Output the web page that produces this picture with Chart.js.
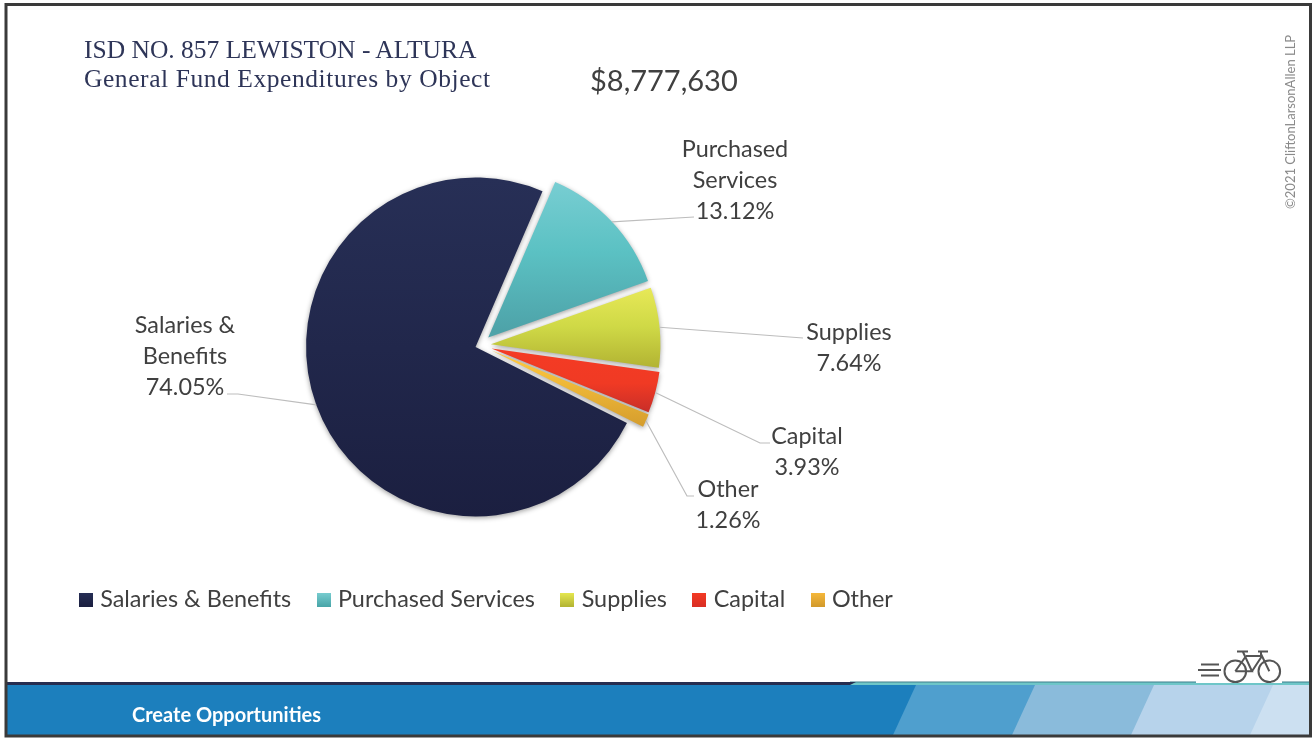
<!DOCTYPE html>
<html><head><meta charset="utf-8">
<style>
html,body{margin:0;padding:0;background:#fff;width:1312px;height:738px;overflow:hidden}
#wrap{position:relative;width:1312px;height:738px}
#c{position:absolute;left:0;top:0}
.t{position:absolute;white-space:nowrap}
svg{position:absolute;left:0;top:0}
</style></head><body>
<div id="wrap">
<svg width="1312" height="738">
<rect x="850" y="682" width="459" height="3" fill="#6EC6C8"/>
<rect x="850" y="681.5" width="459" height="1" fill="#3F7F8C"/>
<polygon points="6,682 856,682 850,685 6,685" fill="#262D50"/>
<rect x="6" y="685" width="1304" height="50" fill="#1C7FBD"/>
<polygon points="916,685 1310,685 1310,735 893,735" fill="#4F9FCE"/>
<polygon points="1035,685 1310,685 1310,735 1012,735" fill="#8ABBDB"/>
<polygon points="1154,685 1310,685 1310,735 1131,735" fill="#B7D3EB"/>
<polygon points="1273,685 1310,685 1310,735 1250,735" fill="#CCE0F1"/>
<rect x="1196" y="680" width="86" height="3" fill="#fff"/>
<g fill="none" stroke="#555" stroke-width="2">
<circle cx="1235.3" cy="671.3" r="10.8"/><circle cx="1269.3" cy="671.3" r="10.8"/>
<path d="M1198 670h23M1201 664.5h18M1201 675.5h18"/>
<path d="M1235.3 671.3L1246 656M1235.3 671.3H1252L1243 652M1246 656H1262M1252 671.3L1262 656L1269.3 671.3M1237 651.5h11M1258 651.5h10M1261 652v4" />
</g>
<g fill="none" stroke="#3a3a3a">
<rect x="6" y="4.5" width="1304.5" height="731.5" stroke-width="3"/>
</g>
</svg>
<canvas id="c" width="1312" height="738"></canvas>
<div class="t" style="left:84px;top:36px;font:25.5px/28px 'Liberation Serif',serif;color:#2E3558">ISD NO. 857 LEWISTON - ALTURA</div>
<div class="t" style="left:84px;top:65px;font:25.5px/28px 'Liberation Serif',serif;letter-spacing:.57px;color:#2E3558">General Fund Expenditures by Object</div>
<div class="t" style="left:590px;top:61px;font:29px/38px Lato,sans-serif;color:#404040">$8,777,630</div>
<div class="t" style="left:132px;top:702px;font:bold 20px/24px Lato,sans-serif;color:#fff">Create Opportunities</div>
<div class="t" style="left:1290px;top:209px;font:13px/14px Lato,sans-serif;color:#8a8a8a;transform-origin:0 0;transform:rotate(-90deg) translateY(-7px)">©2021 CliftonLarsonAllen LLP</div>
</div>
<script src="https://cdn.jsdelivr.net/npm/chart.js@4/dist/chart.umd.min.js"></script>
<script>
const categories = ['Salaries & Benefits','Purchased Services','Supplies','Capital','Other'];
const shares = [74.05,13.12,7.64,3.93,1.26];
const labelLines = [['Salaries &','Benefits'],['Purchased','Services'],['Supplies'],['Capital'],['Other']];
const gradientStops = [
  ['#272F56','#1B1F40'],
  ['#7BCFD4','#5BC1C3','#4EA3A9'],
  ['#E8E958','#CFD946','#B3B433'],
  ['#F43B24','#F03A24','#C42D29'],
  ['#FFC93F','#D29A2C']
];
const legendSwatches = [
  ['#272F56','#1B1F40'],['#78CDD0','#48A5A8'],['#E6E850','#B3B433'],['#F43B24','#D92F25'],['#F6B83A','#D29A2C']
];
const sliceOffsets = [19,45,44,48,51];
const ROTATION = 116.7, RADIUS = 169.5;
// label layout: centre x, first-line y, leader elbow x/y, leader end x
const labelX = [185,735,849,807,728];
const labelY = [325,149,332,436,489];
const elbowX = [238,694,803,760,687];
const elbowY = [394,217,338,443,496];
const endX = [227,694,803,770,694];
const LINE_H = 31;
const LEGEND_LEFT = 53.5, LEGEND_RAISE = 6;

function radiusFix(arc,off){
  const circ=arc.endAngle-arc.startAngle;
  return off*(1-Math.sin(Math.min(Math.PI,circ||0)));
}
function sliceGradient(c){
  const chart=c.chart, i=c.dataIndex, a=chart.chartArea;
  if(!a) return gradientStops[i][0];
  const total=shares.reduce((s,v)=>s+v,0);
  let start=ROTATION; for(let k=0;k<i;k++) start+=shares[k]/total*360;
  const end=start+shares[i]/total*360;
  const cy=(a.top+a.bottom)/2, off=sliceOffsets[i]/4;
  const mid=(start+end)/2*Math.PI/180;
  const oy=cy-Math.cos(mid)*off;
  let ys=[oy,oy-Math.cos(start*Math.PI/180)*RADIUS,oy-Math.cos(end*Math.PI/180)*RADIUS];
  for(let d=0;d<=1080;d+=180){ if(d>=start&&d<=end) ys.push(oy-Math.cos(d*Math.PI/180)*RADIUS); }
  const g=chart.ctx.createLinearGradient(0,Math.min(...ys),0,Math.max(...ys));
  const st=gradientStops[i];
  st.forEach((col,n)=>g.addColorStop(n/(st.length-1),col));
  return g;
}
function swatch(i){
  const s=document.createElement('canvas'); s.width=14; s.height=14;
  const x=s.getContext('2d'), g=x.createLinearGradient(0,0,0,14);
  g.addColorStop(0,legendSwatches[i][0]); g.addColorStop(1,legendSwatches[i][1]);
  x.fillStyle=g; x.fillRect(0,0,14,14); return s;
}
const pieTweaks={
  id:'pieTweaks',
  afterLayout(chart){ chart.legend.left=LEGEND_LEFT; chart.legend.top-=LEGEND_RAISE; },
  afterDatasetsUpdate(chart){
    chart.getDatasetMeta(0).data.forEach((arc,i)=>{
      const shift=radiusFix(arc,sliceOffsets[i]/4);
      arc.outerRadius=RADIUS-shift;
      const widen=shift/(Math.PI*RADIUS)/2;
      arc.startAngle-=widen; arc.endAngle+=widen;
    });
  },
  beforeDatasetDraw(chart){
    const x=chart.ctx; x.save();
    x.shadowColor='rgba(0,0,0,0.38)'; x.shadowBlur=5; x.shadowOffsetY=1.5;
  },
  afterDatasetDraw(chart){ chart.ctx.restore(); },
  afterDatasetsDraw(chart){
    const x=chart.ctx;
    chart.getDatasetMeta(0).data.forEach((arc,i)=>{
      const m=(arc.startAngle+arc.endAngle)/2, off=sliceOffsets[i]/4;
      const sx=arc.x+Math.cos(m)*(off+RADIUS), sy=arc.y+Math.sin(m)*(off+RADIUS);
      x.save();
      x.strokeStyle='#BDBDBD'; x.lineWidth=1.2;
      x.beginPath(); x.moveTo(sx,sy); x.lineTo(elbowX[i],elbowY[i]); x.lineTo(endX[i],elbowY[i]); x.stroke();
      x.fillStyle='#404040'; x.font='23.4px Lato, sans-serif';
      x.textAlign='center'; x.textBaseline='middle';
      const lines=[...labelLines[i],shares[i].toFixed(2)+'%'];
      lines.forEach((t,n)=>x.fillText(t,labelX[i],labelY[i]+n*LINE_H));
      x.restore();
    });
  }
};
new Chart(document.getElementById('c'),{
  type:'pie',
  data:{labels:categories,datasets:[{data:shares,backgroundColor:sliceGradient,borderWidth:0,offset:sliceOffsets}]},
  options:{
    responsive:false,animation:false,rotation:ROTATION,radius:RADIUS,
    layout:{padding:{left:30,right:382,top:126.5,bottom:110.5}},
    plugins:{
      tooltip:{enabled:false},
      legend:{position:'bottom',align:'start',labels:{
        usePointStyle:true,pointStyleWidth:5,boxHeight:14,padding:30,color:'#404040',
        font:{family:'Lato, sans-serif',size:23.4},
        generateLabels(){return categories.map((t,i)=>({text:t,pointStyle:swatch(i),fontColor:'#404040',lineWidth:0,hidden:false,index:i}));}
      }}
    }
  },
  plugins:[pieTweaks]
});
</script>
</body></html>
